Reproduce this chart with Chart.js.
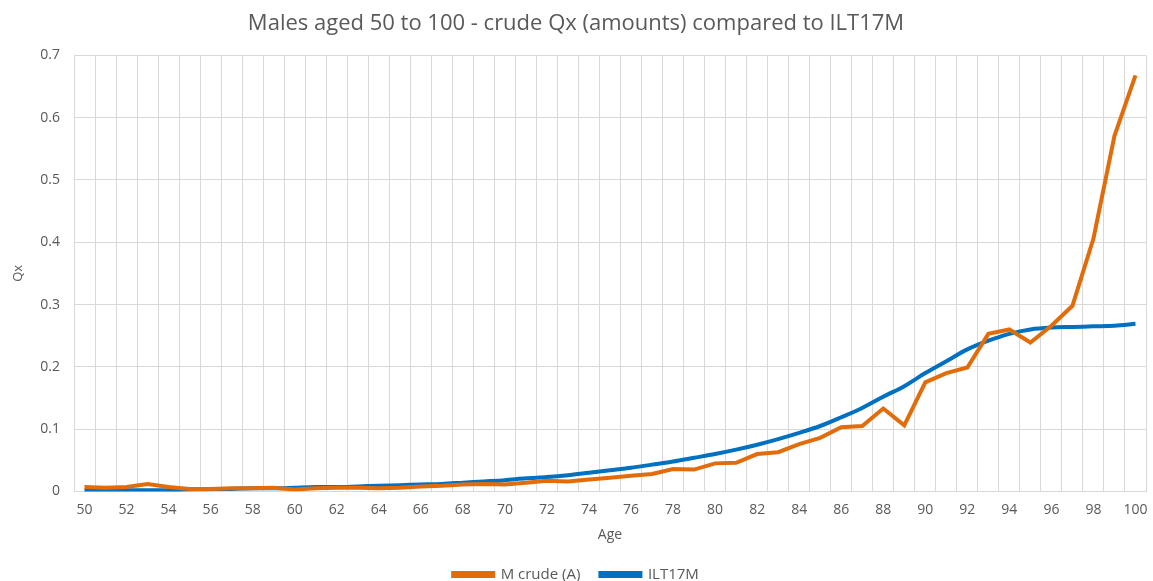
<!DOCTYPE html>
<html>
<head>
<meta charset="utf-8">
<script src="https://cdn.jsdelivr.net/npm/chart.js@4"></script>
<style>
  html, body { margin: 0; padding: 0; background: #fff; }
  #wrap { width: 1153px; height: 581px; }
</style>
</head>
<body>
<div id="wrap"><canvas id="myChart"></canvas></div>
<script>
const ages = []
for (let a = 50; a <= 100; a++) ages.push(String(a))

const crudeQx = [
  0.007, 0.006, 0.007, 0.012, 0.007, 0.004, 0.004, 0.005, 0.005, 0.006,
  0.003, 0.005, 0.006, 0.006, 0.005, 0.006, 0.008, 0.009, 0.011, 0.012,
  0.011, 0.014, 0.017, 0.016, 0.019, 0.022, 0.025, 0.028, 0.036, 0.035,
  0.045, 0.046, 0.060, 0.063, 0.076, 0.086, 0.103, 0.105, 0.133, 0.106,
  0.175, 0.190, 0.199, 0.253, 0.260, 0.239, 0.266, 0.298, 0.406, 0.571,
  0.668
]

const ilt17m = [
  0.002, 0.002, 0.002, 0.002, 0.002, 0.003, 0.004, 0.004, 0.005, 0.005,
  0.006, 0.007, 0.007, 0.008, 0.009, 0.010, 0.011, 0.012, 0.014, 0.016,
  0.018, 0.021, 0.023, 0.026, 0.030, 0.034, 0.038, 0.043, 0.048, 0.054,
  0.060, 0.067, 0.075, 0.084, 0.094, 0.105, 0.119, 0.134, 0.152, 0.169,
  0.190, 0.209, 0.228, 0.242, 0.253, 0.260, 0.263, 0.264, 0.265, 0.266,
  0.269
]

const grey = '#595959'
const gridCol = '#d9d9d9'
Chart.defaults.font.family = "'Open Sans', sans-serif"
Chart.defaults.color = grey

const data = {
  labels: ages,
  datasets: [
    {
      label: 'M crude (A)',
      data: crudeQx,
      borderColor: '#E36C0A',
      backgroundColor: '#E36C0A',
      borderWidth: 4,
      pointRadius: 0,
      tension: 0
    },
    {
      label: 'ILT17M',
      data: ilt17m,
      borderColor: '#0070C0',
      backgroundColor: '#0070C0',
      borderWidth: 4,
      pointRadius: 0,
      tension: 0.3
    }
  ]
}

const config = {
  type: 'line',
  data: data,
  options: {
    responsive: true,
    maintainAspectRatio: false,
    animation: false,
    layout: { padding: { left: 6, right: 7, top: 6, bottom: -11 } },
    plugins: {
      title: {
        display: true,
        text: 'Males aged 50 to 100 - crude Qx (amounts) compared to ILT17M',
        font: { size: 22, weight: 'normal' },
        color: grey,
        padding: { top: 5, bottom: 18 }
      },
      legend: {
        position: 'bottom',
        labels: {
          boxWidth: 40,
          boxHeight: 3,
          font: { size: 15 },
          color: grey,
          padding: 20
        }
      },
      tooltip: { enabled: false }
    },
    scales: {
      x: {
        offset: true,
        grid: { offset: true, color: gridCol, drawTicks: false },
        border: { color: gridCol },
        ticks: {
          autoSkip: false,
          maxRotation: 0,
          padding: 10,
          font: { size: 14 },
          callback: function (v, i) { return i % 2 === 0 ? ages[i] : '' }
        },
        title: { display: true, text: 'Age', font: { size: 14 }, padding: { top: -2, bottom: 4 } },
        afterFit: function (scale) { scale.paddingRight = 0; scale.paddingLeft = 0 }
      },
      y: {
        min: 0,
        max: 0.7,
        grid: { color: gridCol, drawTicks: false },
        border: { display: false },
        ticks: {
          stepSize: 0.1,
          padding: 14,
          font: { size: 14 },
          callback: function (v) { return Math.round(v * 10) / 10 }
        },
        title: { display: true, text: 'Qx', font: { size: 13 }, padding: 4 },
        afterFit: function (scale) { scale.width = 68 }
      }
    }
  }
}

new Chart(document.getElementById('myChart'), config)
</script>
</body>
</html>
